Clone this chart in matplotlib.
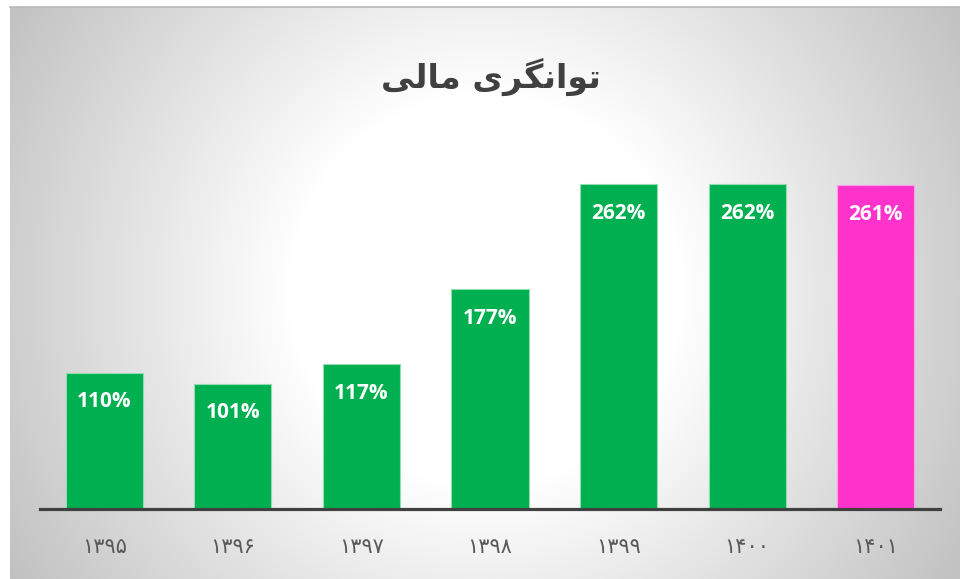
import numpy as np
import matplotlib
matplotlib.use("Agg")
import matplotlib.pyplot as plt

# ---- data ----
years = ["۱۳۹۵", "۱۳۹۶", "۱۳۹۷", "۱۳۹۸", "۱۳۹۹", "۱۴۰۰", "۱۴۰۱"]
values = [110, 101, 117, 177, 262, 262, 261]
labels = ["110%", "101%", "117%", "177%", "262%", "262%", "261%"]
colors = ["#00B050"] * 6 + ["#FF33CC"]
edges = ["#8FDDB0"] * 6 + ["#FFA0E8"]
# "توانگری مالی" in shaped presentation forms, visual (left-to-right) order
title = "\uFBFD\uFEDF\uFE8E\uFEE3 \uFBFC\uFEAE\uFB95\uFEE7\uFE8D\uFEEE\uFE97"

W, H = 960, 579
fig = plt.figure(figsize=(W / 100, H / 100), dpi=100)
fig.patch.set_facecolor("white")

# radial gradient background
bx0, by0 = 10, 7
bg = fig.add_axes([bx0 / W, 0, (W - bx0) / W, (H - by0) / H])
xs = np.arange(bx0, W)
ys = np.arange(by0, H)
X, Y = np.meshgrid(xs, ys)
d = np.hypot(X - 485, Y - 290)
g = np.clip(255 - 0.172 * np.maximum(d - 195, 0), 0, 255) / 255.0
img = np.dstack([g, g, g])
bg.imshow(img, aspect="auto", extent=[0, 1, 0, 1], interpolation="bilinear")
bg.plot([0, 1], [1, 1], color="#B8B8B8", lw=1.2, transform=bg.transAxes, clip_on=False)
bg.axis("off")

# main axes
ax_left, ax_right = 40, 940
ax_bottom, ax_top = 509, 150
ax = fig.add_axes([ax_left / W, (H - ax_bottom) / H, (ax_right - ax_left) / W, (ax_bottom - ax_top) / H])
ax.patch.set_alpha(0)
px_per_unit = 325 / 262
ax.set_ylim(0, (ax_bottom - ax_top) / px_per_unit)
ax.set_xlim(-0.5, len(years) - 0.5)

x = np.arange(len(years))
bars = ax.bar(x, values, width=0.6, color=colors, edgecolor=edges, linewidth=0.8, zorder=2)
for xi, v, lab in zip(x, values, labels):
    ax.annotate(lab, (xi, v), xytext=(0, -21), textcoords="offset points",
                ha="center", va="center", color="white", fontsize=15,
                fontweight="bold", family=["Open Sans", "DejaVu Sans"], zorder=3)

for s in ["top", "right", "left"]:
    ax.spines[s].set_visible(False)
ax.spines["bottom"].set_color("#404040")
ax.spines["bottom"].set_linewidth(2.3)
ax.set_yticks([])
ax.set_xticks(x)
ax.set_xticklabels(years, fontsize=15, color="#595959", family=["DejaVu Sans"])
ax.tick_params(axis="x", length=0, pad=20)

fig.text(491 / W, 1 - 77 / H, title, ha="center", va="center", fontsize=24,
         fontweight="bold", color="#404040", family=["DejaVu Sans"])

fig.savefig("out.png", dpi=100)
